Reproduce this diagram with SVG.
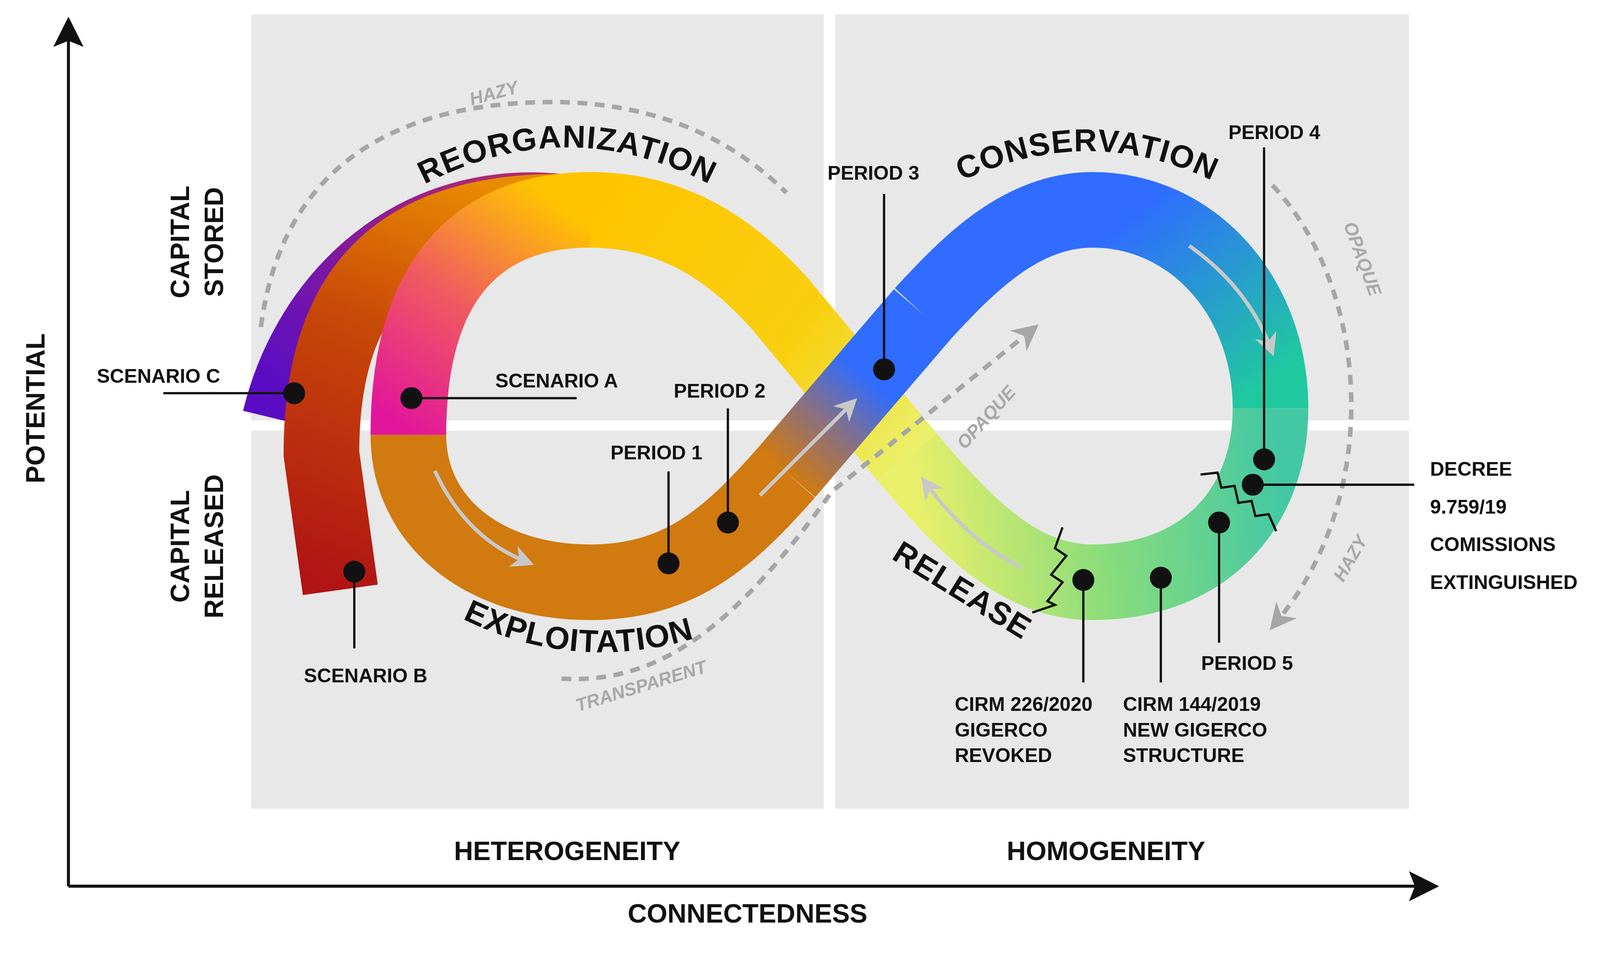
<svg xmlns="http://www.w3.org/2000/svg" width="4235" height="2486" viewBox="0 0 4235 2486">
<style>
.t{font-family:"Liberation Sans",Arial,sans-serif;font-weight:bold;fill:#111}
.s{font-size:52px}
.b{font-size:70px}
.g{font-family:"Liberation Sans",Arial,sans-serif;font-weight:bold;font-style:italic;fill:#a8a8a8;font-size:48px}
.dash{fill:none;stroke:#a6a6a6;stroke-width:12;stroke-dasharray:26 20}
.ga{fill:none;stroke:#c8c8c8;stroke-width:10}
.lead{stroke:#111;stroke-width:6;fill:none}
.band{fill:none;stroke-width:200}
</style>
<defs>
<marker id="ah" viewBox="0 0 10 10" refX="5" refY="5" markerWidth="70" markerHeight="70" markerUnits="userSpaceOnUse" orient="auto"><path d="M0,0 L10,5 L0,10 L3,5 Z" fill="#a6a6a6"/></marker>
<marker id="ah2" viewBox="0 0 10 10" refX="6" refY="5" markerWidth="60" markerHeight="60" markerUnits="userSpaceOnUse" orient="auto"><path d="M0,0 L10,5 L0,10 L3,5 Z" fill="#c8c8c8"/></marker>
<marker id="ax" viewBox="0 0 10 10" refX="8" refY="5" markerWidth="80" markerHeight="80" markerUnits="userSpaceOnUse" orient="auto"><path d="M0,0 L10,5 L0,10 L2,5 Z" fill="#111"/></marker>
<linearGradient id="gP" gradientUnits="userSpaceOnUse" x1="740" y1="1050" x2="1350" y2="480"><stop offset="0" stop-color="#5a0cc4"/><stop offset="1" stop-color="#b02a70"/></linearGradient>
<linearGradient id="gR" gradientUnits="userSpaceOnUse" x1="900" y1="1560" x2="1300" y2="500"><stop offset="0" stop-color="#b01414"/><stop offset="0.6" stop-color="#c84808"/><stop offset="1" stop-color="#e88a00"/></linearGradient>
<linearGradient id="gB" gradientUnits="userSpaceOnUse" x1="1080" y1="1150" x2="1500" y2="555"><stop offset="0" stop-color="#e2159c"/><stop offset="0.5" stop-color="#f05a60"/><stop offset="1" stop-color="#ffc400"/></linearGradient>
<linearGradient id="gC" gradientUnits="userSpaceOnUse" x1="1560" y1="555" x2="2400" y2="1210"><stop offset="0" stop-color="#ffc400"/><stop offset="0.6" stop-color="#f8d010"/><stop offset="1" stop-color="#eaf06a"/></linearGradient>
<linearGradient id="gD" gradientUnits="userSpaceOnUse" x1="2400" y1="1210" x2="3360" y2="1080"><stop offset="0" stop-color="#eaf06a"/><stop offset="0.5" stop-color="#88dc7c"/><stop offset="1" stop-color="#44c8a4"/></linearGradient>
<linearGradient id="gE" gradientUnits="userSpaceOnUse" x1="3360" y1="1000" x2="3000" y2="560"><stop offset="0" stop-color="#20c8a0"/><stop offset="1" stop-color="#2f6cff"/></linearGradient>
<linearGradient id="gF" gradientUnits="userSpaceOnUse" x1="2300" y1="1000" x2="2080" y2="1250"><stop offset="0" stop-color="#2f6cff"/><stop offset="0.5" stop-color="#8a7080"/><stop offset="1" stop-color="#d07a10"/></linearGradient>
<path id="pReo" d="M1100,500 Q1500,280 1900,500"/>
<path id="pCon" d="M2520,490 Q2880,310 3230,490"/>
<path id="pExp" d="M1230,1640 Q1520,1780 1830,1690"/>
<path id="pRel" d="M2360,1480 L2700,1690"/>
</defs>
<g transform="scale(0.968)">
<rect x="664" y="38" width="1515" height="1074" fill="#e8e8e8"/>
<rect x="664" y="1139" width="1515" height="1000" fill="#e8e8e8"/>
<rect x="2209" y="38" width="1517" height="1074" fill="#e8e8e8"/>
<rect x="2209" y="1139" width="1517" height="1000" fill="#e8e8e8"/>
<g id="axes">
<line x1="181" y1="2344" x2="181" y2="60" stroke="#111" stroke-width="8" marker-end="url(#ax)"/>
<line x1="181" y1="2344" x2="3790" y2="2344" stroke="#111" stroke-width="8" marker-end="url(#ax)"/>
</g>
<g id="bands">
<path class="band" d="M1480,560 C1100,520 820,780 740,1110" stroke="url(#gP)" stroke-width="170"/>
<path class="band" d="M1480,560 C1020,560 850,800 850,1200 L900,1560" stroke="url(#gR)" stroke-width="190"/>
<path class="band" d="M2080,1250 C1930,1420 1800,1540 1560,1540 C1280,1540 1080,1380 1080,1150" stroke="#d07a10"/>
<path class="band" d="M1080,1150 C1080,700 1300,555 1560,555" stroke="url(#gB)"/>
<path class="band" d="M1560,555 C1800,555 1950,680 2060,800 L2400,1210" stroke="url(#gC)"/>
<path class="band" d="M2400,1210 C2560,1400 2700,1540 2890,1540 C3180,1540 3360,1350 3360,1080" stroke="url(#gD)"/>
<path class="band" d="M3360,1080 C3360,780 3150,555 2890,555 C2700,555 2560,700 2440,830" stroke="url(#gE)"/>
<path class="band" d="M2440,830 L2080,1250" stroke="url(#gF)"/>
</g>
<g id="connectors">
<path class="dash" d="M690,865 C750,400 1100,270 1460,270 C1750,270 1950,380 2080,510"/>
<path class="dash" d="M1485,1795 C1750,1810 1950,1650 2200,1300 L2720,880" marker-end="url(#ah)"/>
<path class="dash" d="M3365,490 C3620,760 3660,1300 3380,1640" marker-end="url(#ah)"/>
<path class="ga" d="M1150,1245 Q1230,1420 1390,1485" marker-end="url(#ah2)"/>
<path class="ga" d="M2010,1310 L2250,1070" marker-end="url(#ah2)"/>
<path class="ga" d="M3145,650 Q3300,760 3360,920" marker-end="url(#ah2)"/>
<path class="ga" d="M2700,1500 Q2560,1430 2450,1280" marker-end="url(#ah2)"/>
<polyline class="lead" points="2810,1395 2790,1450 2820,1470 2780,1520 2810,1540 2770,1590 2790,1600 2730,1620"/>
<polyline class="lead" points="3175,1255 3220,1250 3230,1290 3265,1285 3275,1330 3310,1325 3320,1365 3355,1360 3375,1405"/>
<line class="lead" x1="432" y1="1040" x2="778" y2="1040"/>
<line class="lead" x1="1088" y1="1053" x2="1525" y2="1053"/>
<line class="lead" x1="937" y1="1512" x2="937" y2="1715"/>
<line class="lead" x1="1768" y1="1490" x2="1768" y2="1247"/>
<line class="lead" x1="1925" y1="1382" x2="1925" y2="1080"/>
<line class="lead" x1="2338" y1="977" x2="2338" y2="513"/>
<line class="lead" x1="3343" y1="1215" x2="3343" y2="390"/>
<line class="lead" x1="3313" y1="1282" x2="3740" y2="1282"/>
<line class="lead" x1="3224" y1="1382" x2="3224" y2="1700"/>
<line class="lead" x1="3070" y1="1528" x2="3070" y2="1805"/>
<line class="lead" x1="2865" y1="1534" x2="2865" y2="1805"/>
</g>
<g id="dots" fill="#111">
<circle id="scC" cx="778" cy="1040" r="29"/>
<circle id="scA" cx="1088" cy="1053" r="29"/>
<circle id="scB" cx="937" cy="1512" r="29"/>
<circle id="p1" cx="1768" cy="1490" r="29"/>
<circle id="p2" cx="1925" cy="1382" r="29"/>
<circle id="p3" cx="2338" cy="977" r="29"/>
<circle id="p4" cx="3343" cy="1215" r="29"/>
<circle id="dec" cx="3313" cy="1282" r="29"/>
<circle id="p5" cx="3224" cy="1382" r="29"/>
<circle id="c144" cx="3070" cy="1528" r="29"/>
<circle id="c226" cx="2865" cy="1534" r="29"/>
</g>
<g id="labels">
<text class="t" font-size="84" letter-spacing="2"><textPath href="#pReo" startOffset="50%" text-anchor="middle">REORGANIZATION</textPath></text>
<text class="t" font-size="84" letter-spacing="2"><textPath href="#pCon" startOffset="50%" text-anchor="middle">CONSERVATION</textPath></text>
<text class="t" font-size="84" letter-spacing="2"><textPath href="#pExp" startOffset="50%" text-anchor="middle">EXPLOITATION</textPath></text>
<text class="t" font-size="84" letter-spacing="2"><textPath href="#pRel" startOffset="50%" text-anchor="middle">RELEASE</textPath></text>
<text class="g" transform="translate(1310,262) rotate(-15)" text-anchor="middle">HAZY</text>
<text class="g" transform="translate(1700,1830) rotate(-17)" text-anchor="middle">TRANSPARENT</text>
<text class="g" transform="translate(2620,1115) rotate(-48)" text-anchor="middle">OPAQUE</text>
<text class="g" transform="translate(3588,690) rotate(70)" text-anchor="middle">OPAQUE</text>
<text class="g" transform="translate(3585,1485) rotate(-60)" text-anchor="middle">HAZY</text>
<text class="t b" transform="translate(118,1080) rotate(-90)" text-anchor="middle">POTENTIAL</text>
<text class="t b" transform="translate(500,640) rotate(-90)" text-anchor="middle">CAPITAL</text>
<text class="t b" transform="translate(590,640) rotate(-90)" text-anchor="middle">STORED</text>
<text class="t b" transform="translate(500,1445) rotate(-90)" text-anchor="middle">CAPITAL</text>
<text class="t b" transform="translate(590,1445) rotate(-90)" text-anchor="middle">RELEASED</text>
<text class="t b" x="1500" y="2275" text-anchor="middle">HETEROGENEITY</text>
<text class="t b" x="2925" y="2275" text-anchor="middle">HOMOGENEITY</text>
<text class="t b" x="1977" y="2440" text-anchor="middle">CONNECTEDNESS</text>
<text class="t s" x="256" y="1012">SCENARIO C</text>
<text class="t s" x="1310" y="1025">SCENARIO A</text>
<text class="t s" x="967" y="1805" text-anchor="middle">SCENARIO B</text>
<text class="t s" x="1736" y="1215" text-anchor="middle">PERIOD 1</text>
<text class="t s" x="1903" y="1052" text-anchor="middle">PERIOD 2</text>
<text class="t s" x="2310" y="475" text-anchor="middle">PERIOD 3</text>
<text class="t s" x="3370" y="368" text-anchor="middle">PERIOD 4</text>
<text class="t s" x="3298" y="1772" text-anchor="middle">PERIOD 5</text>
<text class="t s" x="3782" y="1258">DECREE</text>
<text class="t s" x="3782" y="1358">9.759/19</text>
<text class="t s" x="3782" y="1458">COMISSIONS</text>
<text class="t s" x="3782" y="1558">EXTINGUISHED</text>
<text class="t s" x="2525" y="1880">CIRM 226/2020</text>
<text class="t s" x="2525" y="1948">GIGERCO</text>
<text class="t s" x="2525" y="2016">REVOKED</text>
<text class="t s" x="2970" y="1880">CIRM 144/2019</text>
<text class="t s" x="2970" y="1948">NEW GIGERCO</text>
<text class="t s" x="2970" y="2016">STRUCTURE</text>
</g>
</g>
</svg>
